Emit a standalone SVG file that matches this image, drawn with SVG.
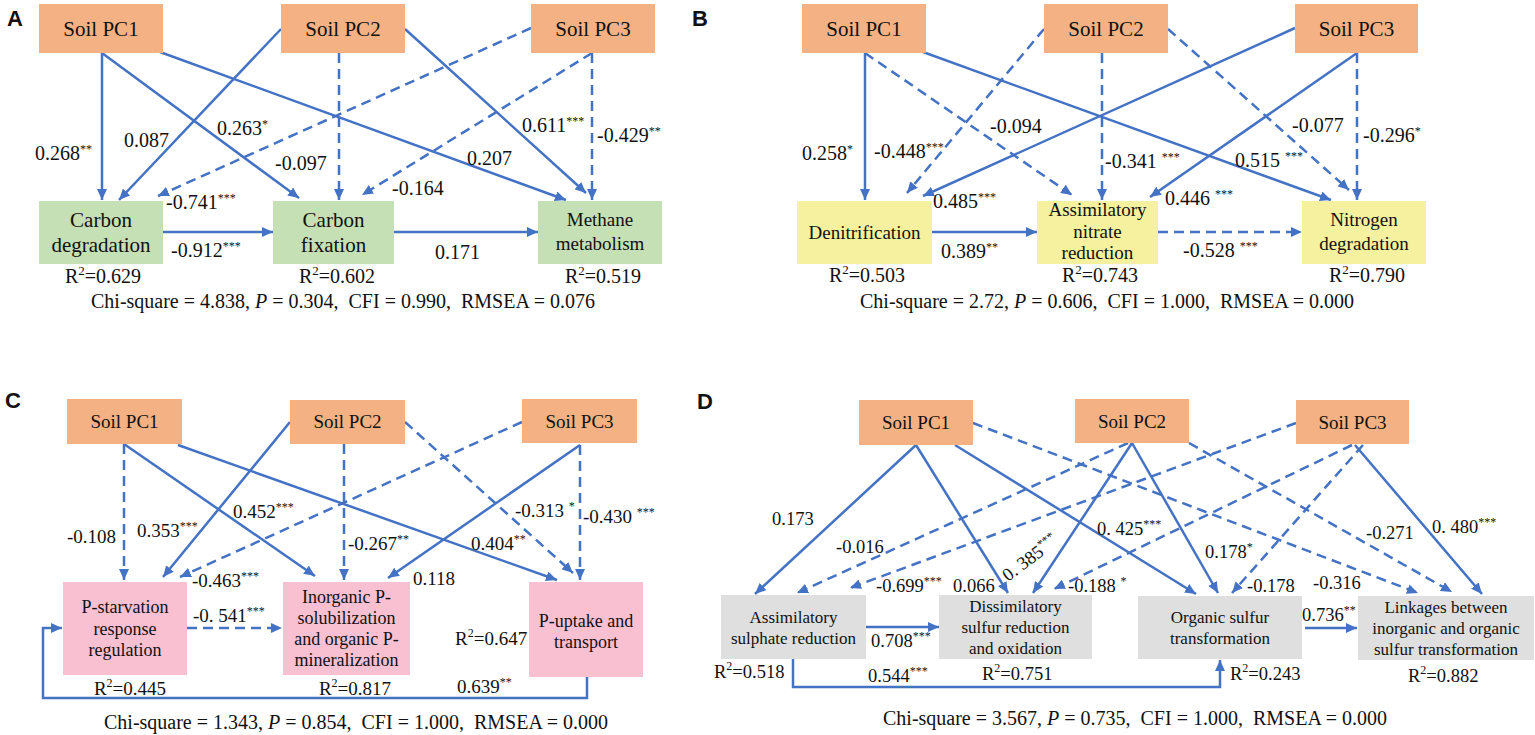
<svg xmlns="http://www.w3.org/2000/svg" width="1535" height="735" viewBox="0 0 1535 735">
<style>
text{font-family:"Liberation Serif","Times New Roman",serif;fill:#111}
.pl{font-family:"Liberation Sans",Arial,sans-serif;font-weight:bold;font-size:22px}
.n21{font-size:21px;text-anchor:middle}
.n19{font-size:19px;text-anchor:middle}
.n18{font-size:18px;text-anchor:middle}
.n17{font-size:17px;text-anchor:middle}
.la{font-size:20px}
.lc{font-size:19px}
.ld{font-size:18.5px}
.r2{text-anchor:middle}
.chi{font-size:20px;text-anchor:middle;white-space:pre}
.orange{fill:#F4B183}
.green{fill:#C5E0B4}
.yellow{fill:#F5F19E}
.pink{fill:#F9C0D2}
.grey{fill:#DFDFDF}
.s{stroke:#4472C4;stroke-width:2.5;fill:none;marker-end:url(#ah)}
.d{stroke:#4472C4;stroke-width:2.5;fill:none;stroke-dasharray:10 6;marker-end:url(#ah)}
</style>
<defs>
<marker id="ah" markerUnits="userSpaceOnUse" markerWidth="11" markerHeight="10" refX="11" refY="5" orient="auto">
<path d="M0,0 L11,5 L0,10 z" fill="#4472C4"/>
</marker>
</defs>
<rect width="1535" height="735" fill="#fff"/>

<!-- Panel letters -->
<text class="pl" x="7" y="26">A</text>
<text class="pl" x="692" y="26">B</text>
<text class="pl" x="5" y="408">C</text>
<text class="pl" x="697" y="409">D</text>

<!-- ===== Connectors ===== -->
<g id="connectors">
<!-- A -->
<line class="s" x1="102" y1="53" x2="102" y2="200"/>
<line class="s" x1="102" y1="53" x2="299" y2="198"/>
<line class="s" x1="160" y1="52" x2="566" y2="200"/>
<line class="s" x1="281" y1="29" x2="119" y2="200"/>
<line class="d" x1="339" y1="53" x2="339" y2="200"/>
<line class="s" x1="405" y1="29" x2="586" y2="193"/>
<line class="d" x1="531" y1="28" x2="158" y2="196"/>
<line class="d" x1="592" y1="53" x2="362" y2="195"/>
<line class="d" x1="592" y1="53" x2="592" y2="200"/>
<line class="s" x1="163" y1="232" x2="273" y2="232"/>
<line class="s" x1="394" y1="232" x2="538" y2="232"/>
<!-- B -->
<line class="s" x1="865" y1="53" x2="865" y2="200"/>
<line class="d" x1="865" y1="53" x2="1072" y2="195"/>
<line class="s" x1="923" y1="52" x2="1331" y2="200"/>
<line class="d" x1="1044" y1="29" x2="907" y2="193"/>
<line class="d" x1="1102" y1="53" x2="1102" y2="200"/>
<line class="d" x1="1168" y1="29" x2="1349" y2="190"/>
<line class="s" x1="1295" y1="28" x2="923" y2="196"/>
<line class="s" x1="1357" y1="53" x2="1150" y2="197"/>
<line class="d" x1="1357" y1="53" x2="1357" y2="200"/>
<line class="s" x1="932" y1="232" x2="1037" y2="232"/>
<line class="d" x1="1158" y1="232" x2="1302" y2="232"/>
<!-- C -->
<line class="d" x1="124" y1="444" x2="124" y2="580"/>
<line class="s" x1="124" y1="444" x2="315" y2="576"/>
<line class="s" x1="178" y1="445" x2="557" y2="580"/>
<line class="s" x1="290" y1="422" x2="163" y2="577"/>
<line class="d" x1="344" y1="444" x2="344" y2="580"/>
<line class="d" x1="405" y1="422" x2="573" y2="573"/>
<line class="d" x1="522" y1="422" x2="180" y2="577"/>
<line class="s" x1="580" y1="445" x2="388" y2="578"/>
<line class="d" x1="580" y1="445" x2="580" y2="580"/>
<line class="d" x1="187" y1="628" x2="282" y2="628"/>
<polyline class="s" points="587,677 587,698 43,698 43,628 62,628"/>
<!-- D -->
<line class="s" x1="916" y1="445" x2="755" y2="594"/>
<line class="s" x1="916" y1="445" x2="1008" y2="593"/>
<line class="s" x1="955" y1="445" x2="1196" y2="594"/>
<line class="d" x1="973" y1="423" x2="1418" y2="593"/>
<line class="d" x1="1128" y1="443" x2="797" y2="593"/>
<line class="s" x1="1132" y1="443" x2="1033" y2="593"/>
<line class="s" x1="1132" y1="443" x2="1218" y2="593"/>
<line class="d" x1="1189" y1="443" x2="1452" y2="592"/>
<line class="d" x1="1296" y1="423" x2="850" y2="588"/>
<line class="d" x1="1352" y1="445" x2="1054" y2="589"/>
<line class="d" x1="1363" y1="445" x2="1232" y2="593"/>
<line class="s" x1="1355" y1="445" x2="1482" y2="594"/>
<line class="s" x1="866" y1="627" x2="939" y2="627"/>
<line class="s" x1="1305" y1="628" x2="1357" y2="628"/>
<polyline class="s" points="793,659 793,687 1220,687 1220,660"/>
</g>

<!-- ===== Panel A nodes ===== -->
<g id="a-pc1"><rect class="orange" x="39" y="4" width="124" height="49"/><text class="n21" x="101" y="36">Soil PC1</text></g>
<g id="a-pc2"><rect class="orange" x="281" y="4" width="124" height="49"/><text class="n21" x="343" y="36">Soil PC2</text></g>
<g id="a-pc3"><rect class="orange" x="531" y="4" width="124" height="49"/><text class="n21" x="593" y="36">Soil PC3</text></g>
<g id="a-cdeg"><rect class="green" x="39" y="201" width="124" height="63"/><text class="n21" x="101" y="227">Carbon</text><text class="n21" x="101" y="252">degradation</text></g>
<g id="a-cfix"><rect class="green" x="273" y="201" width="121" height="63"/><text class="n21" x="333.5" y="227">Carbon</text><text class="n21" x="333.5" y="252">fixation</text></g>
<g id="a-meth"><rect class="green" x="538" y="201" width="124" height="63"/><text class="n19" x="600" y="226">Methane</text><text class="n19" x="600" y="250">metabolism</text></g>

<!-- ===== Panel B nodes ===== -->
<g id="b-pc1"><rect class="orange" x="802" y="4" width="124" height="49"/><text class="n21" x="864" y="36">Soil PC1</text></g>
<g id="b-pc2"><rect class="orange" x="1044" y="4" width="124" height="49"/><text class="n21" x="1106" y="36">Soil PC2</text></g>
<g id="b-pc3"><rect class="orange" x="1295" y="4" width="123" height="49"/><text class="n21" x="1356.5" y="36">Soil PC3</text></g>
<g id="b-den"><rect class="yellow" x="797" y="201" width="135" height="63"/><text class="n19" x="864.5" y="239">Denitrification</text></g>
<g id="b-ass"><rect class="yellow" x="1037" y="201" width="121" height="63"/><text class="n19" x="1097.5" y="216">Assimilatory</text><text class="n19" x="1097.5" y="238">nitrate</text><text class="n19" x="1097.5" y="259">reduction</text></g>
<g id="b-nit"><rect class="yellow" x="1302" y="201" width="124" height="63"/><text class="n19" x="1364" y="226">Nitrogen</text><text class="n19" x="1364" y="250">degradation</text></g>

<!-- ===== Panel C nodes ===== -->
<g id="c-pc1"><rect class="orange" x="67" y="399" width="115" height="45"/><text class="n19" x="124.5" y="428">Soil PC1</text></g>
<g id="c-pc2"><rect class="orange" x="290" y="400" width="115" height="44"/><text class="n19" x="347.5" y="428">Soil PC2</text></g>
<g id="c-pc3"><rect class="orange" x="522" y="399" width="115" height="44"/><text class="n19" x="579.5" y="428">Soil PC3</text></g>
<g id="c-pst"><rect class="pink" x="63" y="582" width="124" height="93"/><text class="n18" x="125" y="613">P-starvation</text><text class="n18" x="125" y="635">response</text><text class="n18" x="125" y="656">regulation</text></g>
<g id="c-inorg"><rect class="pink" x="283" y="582" width="127" height="93"/><text class="n18" x="346.5" y="603">Inorganic P-</text><text class="n18" x="346.5" y="624">solubilization</text><text class="n18" x="346.5" y="645">and organic P-</text><text class="n18" x="346.5" y="666">mineralization</text></g>
<g id="c-pup"><rect class="pink" x="529" y="582" width="114" height="95"/><text class="n18" x="586" y="627">P-uptake and</text><text class="n18" x="586" y="648">transport</text></g>

<!-- ===== Panel D nodes ===== -->
<g id="d-pc1"><rect class="orange" x="859" y="400" width="114" height="45"/><text class="n19" x="916" y="429">Soil PC1</text></g>
<g id="d-pc2"><rect class="orange" x="1075" y="399" width="114" height="44"/><text class="n19" x="1132" y="428">Soil PC2</text></g>
<g id="d-pc3"><rect class="orange" x="1296" y="400" width="113" height="44"/><text class="n19" x="1352.5" y="429">Soil PC3</text></g>
<g id="d-ass"><rect class="grey" x="721" y="595" width="145" height="64"/><text class="n17" x="793.5" y="623">Assimilatory</text><text class="n17" x="793.5" y="644">sulphate reduction</text></g>
<g id="d-dis"><rect class="grey" x="939" y="595" width="153" height="64"/><text class="n17" x="1015.5" y="612">Dissimilatory</text><text class="n17" x="1015.5" y="633">sulfur reduction</text><text class="n17" x="1015.5" y="654">and oxidation</text></g>
<g id="d-org"><rect class="grey" x="1138" y="596" width="164" height="63"/><text class="n17" x="1220" y="623">Organic sulfur</text><text class="n17" x="1220" y="644">transformation</text></g>
<g id="d-link"><rect class="grey" x="1358" y="596" width="176" height="64"/><text class="n17" x="1446" y="613">Linkages between</text><text class="n17" x="1446" y="634">inorganic and organic</text><text class="n17" x="1446" y="655">sulfur transformation</text></g>

<!-- ===== Edge labels ===== -->
<g id="labels">
<!-- A -->
<text class="la" x="35" y="160">0.268<tspan font-size="12" dy="-7">**</tspan></text>
<text class="la" x="124" y="147">0.087</text>
<text class="la" x="217" y="135">0.263<tspan font-size="12" dy="-7">*</tspan></text>
<text class="la" x="275" y="170">-0.097</text>
<text class="la" x="522" y="132">0.611<tspan font-size="12" dy="-7">***</tspan></text>
<text class="la" x="597" y="142">-0.429<tspan font-size="12" dy="-7">**</tspan></text>
<text class="la" x="467" y="165">0.207</text>
<text class="la" x="392" y="195">-0.164</text>
<text class="la" x="166" y="209">-0.741<tspan font-size="12" dy="-7">***</tspan></text>
<text class="la" x="171" y="257">-0.912<tspan font-size="12" dy="-7">***</tspan></text>
<text class="la" x="435" y="259">0.171</text>
<text class="la r2" x="103" y="283">R<tspan font-size="13" dy="-8">2</tspan><tspan dy="8">=0.629</tspan></text>
<text class="la r2" x="337" y="283">R<tspan font-size="13" dy="-8">2</tspan><tspan dy="8">=0.602</tspan></text>
<text class="la r2" x="603" y="283">R<tspan font-size="13" dy="-8">2</tspan><tspan dy="8">=0.519</tspan></text>
<text class="chi" x="343" y="308">Chi-square = 4.838, <tspan font-style="italic">P</tspan> = 0.304,  CFI = 0.990,  RMSEA = 0.076</text>
<!-- B -->
<text class="la" x="802" y="160">0.258<tspan font-size="12" dy="-7">*</tspan></text>
<text class="la" x="874" y="158">-0.448<tspan font-size="12" dy="-7">***</tspan></text>
<text class="la" x="990" y="133">-0.094</text>
<text class="la" x="1105" y="168">-0.341 <tspan font-size="12" dy="-7">***</tspan></text>
<text class="la" x="1292" y="132">-0.077</text>
<text class="la" x="1363" y="142">-0.296<tspan font-size="12" dy="-7">*</tspan></text>
<text class="la" x="1235" y="167">0.515 <tspan font-size="12" dy="-7">***</tspan></text>
<text class="la" x="1165" y="205">0.446 <tspan font-size="12" dy="-7">***</tspan></text>
<text class="la" x="933" y="208">0.485<tspan font-size="12" dy="-7">***</tspan></text>
<text class="la" x="941" y="258">0.389<tspan font-size="12" dy="-7">**</tspan></text>
<text class="la" x="1183" y="257">-0.528 <tspan font-size="12" dy="-7">***</tspan></text>
<text class="la r2" x="867" y="282">R<tspan font-size="13" dy="-8">2</tspan><tspan dy="8">=0.503</tspan></text>
<text class="la r2" x="1100" y="282">R<tspan font-size="13" dy="-8">2</tspan><tspan dy="8">=0.743</tspan></text>
<text class="la r2" x="1367" y="282">R<tspan font-size="13" dy="-8">2</tspan><tspan dy="8">=0.790</tspan></text>
<text class="chi" x="1107" y="308">Chi-square = 2.72, <tspan font-style="italic">P</tspan> = 0.606,  CFI = 1.000,  RMSEA = 0.000</text>
<!-- C -->
<text class="lc" x="67" y="543">-0.108</text>
<text class="lc" x="137" y="537">0.353<tspan font-size="12" dy="-7">***</tspan></text>
<text class="lc" x="233" y="518">0.452<tspan font-size="12" dy="-7">***</tspan></text>
<text class="lc" x="348" y="550">-0.267<tspan font-size="12" dy="-7">**</tspan></text>
<text class="lc" x="515" y="517">-0.313 <tspan font-size="12" dy="-7">*</tspan></text>
<text class="lc" x="583" y="523">-0.430 <tspan font-size="12" dy="-7">***</tspan></text>
<text class="lc" x="471" y="550">0.404<tspan font-size="12" dy="-7">**</tspan></text>
<text class="lc" x="413" y="585">0.118</text>
<text class="lc" x="192" y="587">-0.463<tspan font-size="12" dy="-7">***</tspan></text>
<text class="lc" x="193" y="622">-0. 541<tspan font-size="12" dy="-7">***</tspan></text>
<text class="lc" x="455" y="645">R<tspan font-size="12" dy="-8">2</tspan><tspan dy="8">=0.647</tspan></text>
<text class="lc" x="457" y="693">0.639<tspan font-size="12" dy="-7">**</tspan></text>
<text class="lc r2" x="130" y="695">R<tspan font-size="12" dy="-8">2</tspan><tspan dy="8">=0.445</tspan></text>
<text class="lc r2" x="355" y="695">R<tspan font-size="12" dy="-8">2</tspan><tspan dy="8">=0.817</tspan></text>
<text class="chi" x="356" y="729" font-size="19px">Chi-square = 1.343, <tspan font-style="italic">P</tspan> = 0.854,  CFI = 1.000,  RMSEA = 0.000</text>
<!-- D -->
<text class="ld" x="772" y="525">0.173</text>
<text class="ld" x="836" y="553">-0.016</text>
<text class="ld" x="876" y="592">-0.699<tspan font-size="12" dy="-7">***</tspan></text>
<text class="ld" x="953" y="592">0.066</text>
<text class="ld" x="1008" y="582" transform="rotate(-37 1008 582)">0. 385<tspan font-size="12" dy="-7">***</tspan></text>
<text class="ld" x="1068" y="592">-0.188 <tspan font-size="12" dy="-7">*</tspan></text>
<text class="ld" x="1097" y="535">0. 425<tspan font-size="12" dy="-7">***</tspan></text>
<text class="ld" x="1205" y="558">0.178<tspan font-size="12" dy="-7">*</tspan></text>
<text class="ld" x="1247" y="592">-0.178</text>
<text class="ld" x="1313" y="589">-0.316</text>
<text class="ld" x="1366" y="539">-0.271</text>
<text class="ld" x="1432" y="533">0. 480<tspan font-size="12" dy="-7">***</tspan></text>
<text class="ld" x="871" y="647">0.708<tspan font-size="12" dy="-7">***</tspan></text>
<text class="ld" x="1302" y="621">0.736<tspan font-size="12" dy="-7">**</tspan></text>
<text class="ld" x="868" y="682">0.544<tspan font-size="12" dy="-7">***</tspan></text>
<text class="ld" x="714" y="678">R<tspan font-size="12" dy="-8">2</tspan><tspan dy="8">=0.518</tspan></text>
<text class="ld" x="982" y="680">R<tspan font-size="12" dy="-8">2</tspan><tspan dy="8">=0.751</tspan></text>
<text class="ld" x="1230" y="680">R<tspan font-size="12" dy="-8">2</tspan><tspan dy="8">=0.243</tspan></text>
<text class="ld" x="1408" y="682">R<tspan font-size="12" dy="-8">2</tspan><tspan dy="8">=0.882</tspan></text>
<text class="chi" x="1135" y="725" font-size="19px">Chi-square = 3.567, <tspan font-style="italic">P</tspan> = 0.735,  CFI = 1.000,  RMSEA = 0.000</text>
</g>
</svg>
